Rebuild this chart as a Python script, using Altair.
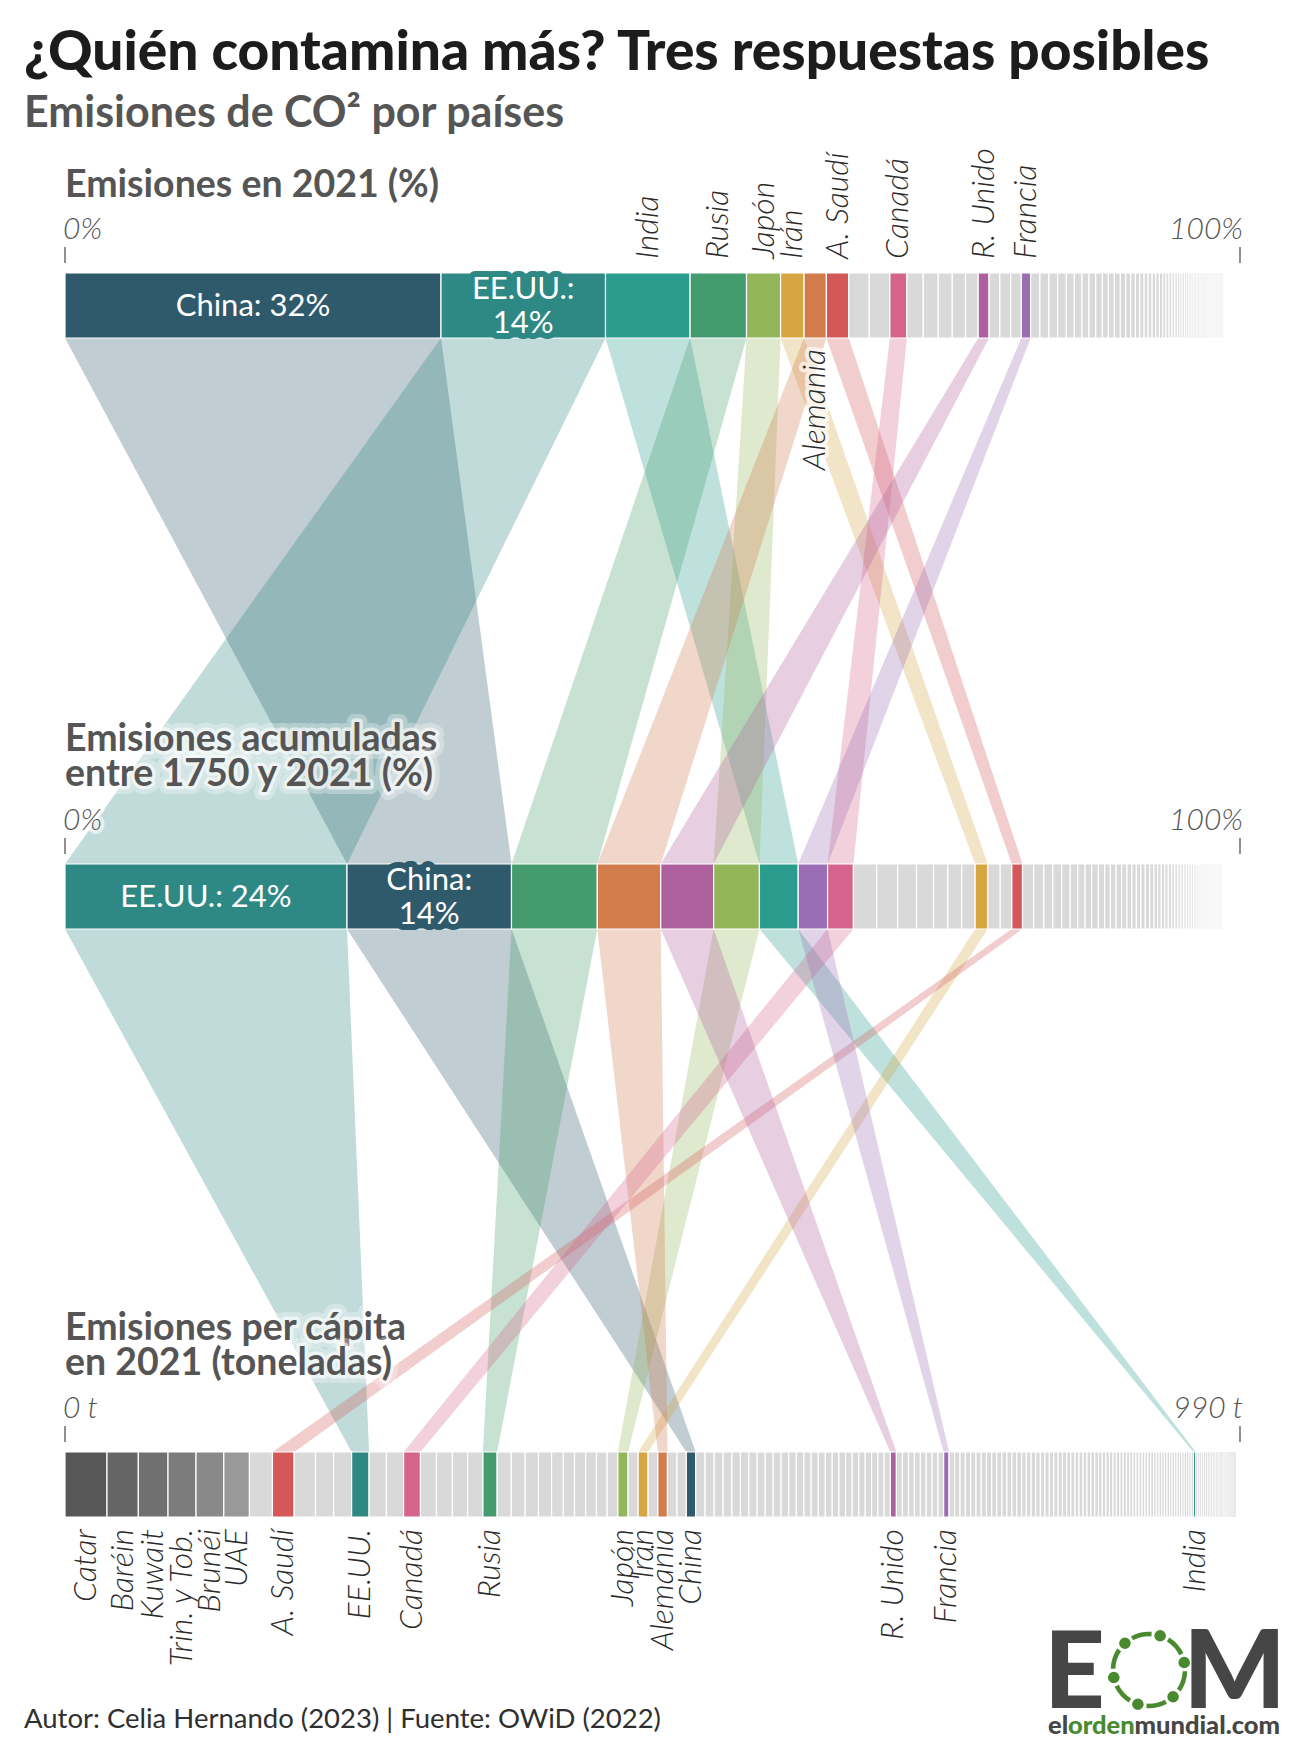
import math
import altair as alt
import numpy as np
import pandas as pd

W, H = 1301, 1752
FONT = "Lato"
GREY = "#d9d9d9"
INK = "#2b2b2b"
MUTED = "#555555"

# ---------------------------------------------------------------------------
# Share of world CO2 emissions in 2021 (%), largest first
share_names = ["China", "EE.UU.", "India", "Rusia", "Japón", "Irán", "Alemania", "A. Saudí",
               "", "", "Canadá", "", "", "", "", "", "R. Unido", "", "", "", "Francia"]
share_values = [32, 14, 7.2, 4.8, 2.9, 2.0, 1.9, 1.9,
                1.75, 1.75, 1.45, 1.39, 1.28, 1.19, 1.13, 1.08, 0.92, 0.92, 0.92, 0.91, 0.79]
share_rest = [0.79, 0.77, 0.74, 0.74, 0.68, 0.65, 0.60, 0.57, 0.57, 0.51, 0.51, 0.51,
              0.45, 0.43, 0.40, 0.37, 0.37, 0.34, 0.34, 0.31, 0.31, 0.28, 0.28, 0.26, 0.26,
              0.23, 0.23, 0.20, 0.20, 0.20, 0.17, 0.16, 0.15, 0.15, 0.14, 0.13, 0.13, 0.12,
              0.11, 0.11, 0.10, 0.10, 0.09, 0.09, 0.08, 0.08, 0.08, 0.07, 0.07, 0.07, 0.06,
              0.06, 0.06, 0.05, 0.05, 0.05, 0.05, 0.04, 0.04, 0.04, 0.04, 0.03, 0.03, 0.03,
              0.03, 0.03, 0.02, 0.02, 0.02, 0.02, 0.02, 0.02, 0.02, 0.02, 0.02, 0.02,
              0.01, 0.01, 0.01, 0.01, 0.01, 0.01, 0.01, 0.01, 0.01, 0.01,
              0.01, 0.01, 0.01, 0.01, 0.01, 0.01, 0.01, 0.01, 0.01, 0.01]

# Share of cumulative emissions 1750-2021 (%), largest first
cum_names = ["EE.UU.", "China", "Rusia", "Alemania", "R. Unido", "Japón", "India", "Francia",
             "Canadá", "", "", "", "", "", "", "", "Irán", "", "", "A. Saudí"]
cum_values = [24, 14, 7.3, 5.4, 4.5, 3.9, 3.3, 2.5,
              2.2, 1.98, 1.79, 1.6, 1.45, 1.22, 1.18, 1.14, 1.07, 1.06, 0.99, 0.91]
cum_rest = [0.95, 0.87, 0.76, 0.76, 0.72, 0.65, 0.61, 0.57, 0.57, 0.53, 0.49, 0.49, 0.46,
            0.46, 0.42, 0.38, 0.38, 0.38, 0.38, 0.36, 0.32, 0.30, 0.30, 0.30, 0.28, 0.27,
            0.26, 0.25, 0.24, 0.23, 0.22, 0.21, 0.20, 0.19, 0.18, 0.17, 0.16, 0.15, 0.14,
            0.13, 0.12, 0.11, 0.10, 0.09, 0.08, 0.08, 0.07, 0.07, 0.06, 0.06, 0.05, 0.05,
            0.04, 0.04, 0.03, 0.03, 0.03, 0.02, 0.02, 0.02, 0.02,
            0.01, 0.01, 0.01, 0.01, 0.01, 0.01, 0.01, 0.01, 0.01, 0.01]

# Per-capita emissions in 2021 (t), largest first
pc_lead_names = ["Catar", "Baréin", "Kuwait", "Trin. y Tob.", "Brunéi", "UAE"]
pc_lead_values = [35.4, 26.4, 25.0, 23.6, 23.4, 21.6]
pc_names = ["A. Saudí", "EE.UU.", "Canadá", "Rusia", "Japón", "Irán", "Alemania", "China",
            "R. Unido", "Francia", "India"]
pc_values = [18.3, 14.7, 14.2, 12.0, 8.6, 8.4, 8.1, 7.9, 5.1, 4.6, 1.9]
# unlabelled countries ranked just above each of the named ones
pc_between = [
    [19.4],
    [18.0, 15.3, 15.1],
    [14.6, 14.5],
    [13.5, 13.4, 12.9, 12.8],
    [11.9, 11.7, 11.2, 11.1, 9.9, 9.4, 9.4, 9.1, 9.0, 9.0],
    [8.5],
    [8.2],
    [8.0, 7.9],
    [7.9, 7.7, 7.5, 7.4, 7.2, 7.1, 7.0, 6.8, 6.7, 6.6, 6.5, 6.4, 6.3, 6.2, 6.0, 5.9,
     5.8, 5.7, 5.6, 5.6, 5.5, 5.4, 5.4, 5.3, 5.3, 5.2],
    [5.1, 5.1, 5.0, 5.0, 5.0, 4.9, 4.9, 4.8],
    [4.6, 4.6, 4.5, 4.5, 4.5, 4.4, 4.4, 4.4, 4.3, 4.3, 4.2, 4.2, 4.1, 4.1, 4.0, 4.0,
     3.9, 3.9, 3.8, 3.8, 3.7, 3.7, 3.6, 3.6, 3.5, 3.5, 3.4, 3.4, 3.3, 3.3, 3.2, 3.2,
     3.1, 3.1, 3.0, 3.0, 2.9, 2.9, 2.8, 2.8, 2.7, 2.7, 2.6, 2.6, 2.5, 2.5, 2.4, 2.4,
     2.4, 2.3, 2.3, 2.3, 2.2, 2.2, 2.2, 2.1, 2.1, 2.1, 2.0, 2.0, 2.0, 2.0, 1.95, 1.95, 1.9],
]
pc_rest = [1.8, 1.7, 1.7, 1.6, 1.6, 1.5, 1.5, 1.4, 1.4, 1.3, 1.3, 1.2, 1.2, 1.1, 1.1, 1.0,
           1.0, 0.9, 0.9, 0.8, 0.8, 0.7, 0.7, 0.6, 0.6, 0.5, 0.5, 0.4, 0.4, 0.35, 0.3, 0.3,
           0.25, 0.25, 0.2, 0.2, 0.15, 0.15, 0.1, 0.1, 0.1, 0.05, 0.05]
PC_MAX = 990

# labels placed around the bars
top_above = ["India", "Rusia", "Japón", "Irán", "A. Saudí", "Canadá", "R. Unido", "Francia"]
top_below = ["Alemania"]
top_inside = {"China": False, "EE.UU.": True}      # True -> value on a second line
mid_inside = {"EE.UU.": False, "China": True}

palette = {
    "China": "#2f5a6b",
    "EE.UU.": "#2e8985",
    "India": "#2a9c8d",
    "Rusia": "#449b6d",
    "Japón": "#94b65a",
    "Irán": "#d5a642",
    "Alemania": "#d27b4b",
    "A. Saudí": "#d45858",
    "Canadá": "#d4648b",
    "R. Unido": "#ae5f9d",
    "Francia": "#9b6db3",
}
dark = {"Catar": "#575757", "Baréin": "#656565", "Kuwait": "#707070",
        "Trin. y Tob.": "#7c7c7c", "Brunéi": "#898989", "UAE": "#999999"}

# ---------------------------------------------------------------------------
BAR_H = 65
TOP_Y, MID_Y, BOT_Y = 273, 864, 1452
X0, X1 = 65, 1240
PX_PER_UNIT = (X1 - X0) / 100

xs = alt.Scale(domain=[0, 100], range=[X0, X1])
ys = alt.Scale(domain=[0, H], range=[0, H])


def segments(names, values, unit=1.0):
    rows, pos = [], 0.0
    for n, v in zip(names, values):
        rows.append({"name": n, "x0": pos / unit, "x1": (pos + v) / unit, "v": v})
        pos += v
    return rows


pc_all_names, pc_all_values = list(pc_lead_names), list(pc_lead_values)
for grp, n, v in zip(pc_between, pc_names, pc_values):
    pc_all_names += [""] * len(grp) + [n]
    pc_all_values += grp + [v]
pc_all_names += [""] * len(pc_rest)
pc_all_values += pc_rest

top_rows = segments(share_names + [""] * len(share_rest), share_values + share_rest)
mid_rows = segments(cum_names + [""] * len(cum_rest), cum_values + cum_rest)
bot_rows = segments(pc_all_names, pc_all_values, unit=PC_MAX / 100)


def bar_frame(rows, y0, fade):
    df = pd.DataFrame(rows)
    df["y0"] = y0
    df["y1"] = y0 + BAR_H
    df["fill"] = df["name"].map(lambda n: palette.get(n, dark.get(n, GREY)))
    df["xc"] = (df["x0"] + df["x1"]) / 2
    wpx = (df["x1"] - df["x0"]) * PX_PER_UNIT
    df["sw"] = np.minimum(1.2, 0.45 * wpx)
    if fade:
        df["op"] = np.where(df["name"] == "", np.clip((99.3 - df["xc"]) / 6.0, 0.05, 1.0), 1.0)
    else:
        df["op"] = 1.0
    return df


top_df = bar_frame(top_rows, TOP_Y, True)
mid_df = bar_frame(mid_rows, MID_Y, True)
bot_df = bar_frame(bot_rows, BOT_Y, False)
bars = pd.concat([top_df, mid_df, bot_df], ignore_index=True)


def where(df, name):
    r = df[df["name"] == name].iloc[0]
    return r["x0"], r["x1"]


# ribbons linking each highlighted country between consecutive rankings
rib_rows = []
for c, col in palette.items():
    t, m, b = where(top_df, c), where(mid_df, c), where(bot_df, c)
    for k, (a, ya, z, yz) in enumerate([(t, TOP_Y + BAR_H, m, MID_Y),
                                         (m, MID_Y + BAR_H, b, BOT_Y)]):
        rid = f"{c}-{k}"
        rib_rows.append({"rid": rid, "y": ya, "xl": a[0], "xr": a[1], "fill": col})
        rib_rows.append({"rid": rid, "y": yz, "xl": z[0], "xr": z[1], "fill": col})
rib_df = pd.DataFrame(rib_rows)

layers = []

layers.append(
    alt.Chart(rib_df).mark_area(orient="horizontal", opacity=0.3).encode(
        y=alt.Y("y:Q", scale=ys, axis=None),
        x=alt.X("xl:Q", scale=xs, axis=None, stack=None),
        x2="xr:Q",
        detail="rid:N",
        color=alt.Color("fill:N", scale=None),
    )
)

# stacked bars
layers.append(
    alt.Chart(bars).mark_rect(stroke="white").encode(
        x=alt.X("x0:Q", scale=xs, axis=None),
        x2="x1:Q",
        y=alt.Y("y0:Q", scale=ys, axis=None),
        y2="y1:Q",
        color=alt.Color("fill:N", scale=None),
        strokeWidth=alt.StrokeWidth("sw:Q", scale=None),
        opacity=alt.Opacity("op:Q", scale=None),
    )
)


def text(t, x, y, size, color=MUTED, weight=400, style="normal", align="left",
         baseline="alphabetic", angle=0, glow=None):
    df = pd.DataFrame({"t": [t]})
    props = dict(font=FONT, fontSize=size, fontWeight=weight, fontStyle=style,
                 align=align, baseline=baseline, angle=angle)
    enc = dict(x=alt.value(x), y=alt.value(y), text="t:N")
    out = []
    # soft white glow under text that sits on top of the ribbons
    for w, op in (glow or []):
        out.append(alt.Chart(df).mark_text(fill="white", stroke="white", strokeWidth=w,
                                           strokeJoin="round", opacity=op, **props).encode(**enc))
    out.append(alt.Chart(df).mark_text(fill=color, **props).encode(**enc))
    return out


GLOW = [(16, 0.3), (7, 0.6)]
SMALL_GLOW = [(8, 0.6)]

# titles
layers += text("¿Quién contamina más? Tres respuestas posibles", 24, 70, 55, color="#1c1c1c", weight=900)
layers += text("Emisiones de CO² por países", 24, 127, 43, color=MUTED, weight=700)

# section headers
layers += text("Emisiones en 2021 (%)", 65, 197, 37.5, weight=700)
layers += text("Emisiones acumuladas", 65, 751, 37.5, weight=700, glow=GLOW)
layers += text("entre 1750 y 2021 (%)", 65, 786, 37.5, weight=700, glow=GLOW)
layers += text("Emisiones per cápita", 65, 1340, 37.5, weight=700, glow=GLOW)
layers += text("en 2021 (toneladas)", 65, 1375, 37.5, weight=700, glow=GLOW)

# scale end labels
END = dict(weight=300, style="italic")
layers += text("0%", 63, TOP_Y - 34, 30, **END)
layers += text("100%", 1243, TOP_Y - 34, 30, align="right", **END)
layers += text("0%", 63, MID_Y - 34, 30, glow=SMALL_GLOW, **END)
layers += text("100%", 1243, MID_Y - 34, 30, align="right", **END)
layers += text("0 t", 63, BOT_Y - 34, 30, **END)
layers += text(f"{PC_MAX} t", 1243, BOT_Y - 34, 30, align="right", **END)

ticks = pd.DataFrame({"x": [0, 100, 0, 100, 0, 100],
                      "ya": [TOP_Y - 26, TOP_Y - 26, MID_Y - 26, MID_Y - 26, BOT_Y - 26, BOT_Y - 26]})
ticks["yb"] = ticks["ya"] + 16
layers.append(
    alt.Chart(ticks).mark_rule(color=MUTED, strokeWidth=1.3).encode(
        x=alt.X("x:Q", scale=xs, axis=None),
        y=alt.Y("ya:Q", scale=ys, axis=None),
        y2="yb:Q",
    )
)

# country names beside the bars
lab_style = dict(font=FONT, fontSize=32, fontWeight=300, fontStyle="italic", angle=270,
                 baseline="middle")

above = top_df[top_df["name"].isin(top_above)]
layers.append(alt.Chart(above).mark_text(align="left", fill=INK, **lab_style).encode(
    x=alt.X("xc:Q", scale=xs, axis=None), y=alt.value(TOP_Y - 14), text="name:N"))

below = top_df[top_df["name"].isin(top_below)]
layers.append(alt.Chart(below).mark_text(align="right", stroke="white", strokeWidth=8,
                                         strokeJoin="round", fill="white", opacity=0.7,
                                         **lab_style).encode(
    x=alt.X("xc:Q", scale=xs, axis=None), y=alt.value(TOP_Y + BAR_H + 11), text="name:N"))
layers.append(alt.Chart(below).mark_text(align="right", fill=INK, **lab_style).encode(
    x=alt.X("xc:Q", scale=xs, axis=None), y=alt.value(TOP_Y + BAR_H + 11), text="name:N"))

bottom = bot_df[bot_df["name"] != ""]
layers.append(alt.Chart(bottom).mark_text(align="right", fill=INK, **lab_style).encode(
    x=alt.X("xc:Q", scale=xs, axis=None), y=alt.value(BOT_Y + BAR_H + 12), text="name:N"))


# value labels inside the two largest segments
LINE_H = 34


def inside(df, spec, y0):
    rows = []
    for name, stacked in spec.items():
        r = df[df["name"] == name].iloc[0]
        sep = "\n" if stacked else " "
        mid = y0 + BAR_H / 2 + 1
        rows.append({"xc": r["xc"], "t": f"{name}:{sep}{r['v']:g}%", "fill": r["fill"],
                     "stacked": stacked, "ty": mid - LINE_H / 2 if stacked else mid})
    d = pd.DataFrame(rows)
    out = []
    common = dict(font=FONT, fontSize=31, fontWeight=400, baseline="middle", align="center",
                  lineBreak="\n", lineHeight=LINE_H)
    enc = dict(x=alt.X("xc:Q", scale=xs, axis=None), y=alt.Y("ty:Q", scale=ys, axis=None),
               text="t:N")
    halo = d[d["stacked"]]
    out.append(alt.Chart(halo).mark_text(strokeWidth=12, strokeJoin="round", **common).encode(
        stroke=alt.Stroke("fill:N", scale=None), color=alt.Color("fill:N", scale=None), **enc))
    out.append(alt.Chart(d).mark_text(fill="white", **common).encode(**enc))
    return out


layers += inside(top_df, top_inside, TOP_Y)
layers += inside(mid_df, mid_inside, MID_Y)

# footer
layers += text("Autor: Celia Hernando (2023) | Fuente: OWiD (2022)", 24, 1728, 27.5, color="#2f2f2f")

# publisher mark
LOGO_GREY = "#464646"
LOGO_GREEN = "#4a8a2f"
layers += text("E", 1044, 1708, 106, color=LOGO_GREY, weight=900)
layers += text("M", 1286, 1708, 108, color=LOGO_GREY, weight=900, align="right")
cx, cy, r = 1149, 1670, 36
one = pd.DataFrame({"k": [0]})
for k in range(6):
    a = -12 + 60 * k
    s0 = math.radians((a + 14 + 90) % 360)
    s1 = math.radians((a + 46 + 90) % 360)
    if s1 < s0:
        s1 += 2 * math.pi
    layers.append(alt.Chart(one).mark_arc(color=LOGO_GREEN).encode(
        x=alt.value(cx), y=alt.value(cy), theta=alt.value(s0), theta2=alt.value(s1),
        radius=alt.value(r + 2.3), radius2=alt.value(r - 2.3)))
    layers.append(alt.Chart(one).mark_point(filled=True, opacity=1, color=LOGO_GREEN, size=135).encode(
        x=alt.value(cx + r * math.cos(math.radians(a))), y=alt.value(cy + r * math.sin(math.radians(a)))))
layers += text("el", 1048, 1734, 25.5, color=LOGO_GREY, weight=900)
layers += text("orden", 1068, 1734, 25.5, color=LOGO_GREEN, weight=900)
layers += text("mundial.com", 1134.5, 1734, 25.5, color=LOGO_GREY, weight=900)

chart = alt.layer(*layers).properties(
    width=W, height=H, padding=0, autosize=alt.AutoSizeParams(type="none"),
    background="white",
).configure_view(stroke=None)

chart.save("out.html", embed_options={"renderer": "svg", "actions": False})
